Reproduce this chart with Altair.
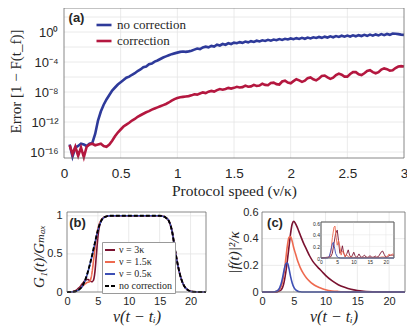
import altair as alt
import pandas as pd

# ---------------- data: panel (a) ----------------
A_X0, A_DX = 0.05, 0.025   # sampling grid of protocol speed
a_blue_log10 = [
    -15.0, -16.6, -15.4, -15.2, -14.9, -15.0, -15.2, -14.9, -14.8, -13.6,
    -11.8, -10.6, -9.7, -9.0, -8.4, -7.8, -7.4, -7.0, -6.7, -6.4,
    -6.1, -5.95, -5.7, -5.5, -5.2, -5.0, -4.7, -4.6, -4.3, -4.2,
    -3.95, -3.8, -3.6, -3.4, -3.25, -3.1, -2.95, -2.85, -2.75, -2.65,
    -2.6, -2.65, -2.58, -2.5, -2.35, -2.2, -2.28, -2.05, -1.95, -2.05,
    -1.85, -1.95, -1.7, -1.8, -1.6, -1.7, -1.5, -1.6, -1.42, -1.5,
    -1.35, -1.45, -1.28, -1.38, -1.22, -1.32, -1.16, -1.26, -1.1, -1.2,
    -1.04, -1.15, -1.0, -1.1, -0.94, -1.05, -0.9, -1.0, -0.86, -0.96,
    -0.82, -0.93, -0.78, -0.9, -0.74, -0.85, -0.7, -0.8, -0.66, -0.78,
    -0.62, -0.74, -0.58, -0.7, -0.54, -0.66, -0.5, -0.63, -0.48, -0.6,
    -0.44, -0.57, -0.42, -0.54, -0.38, -0.51, -0.34, -0.48, -0.32, -0.45,
    -0.28, -0.42, -0.26, -0.38, -0.2, -0.24, -0.28, -0.35, -0.38,
]
a_red_log10 = [
    -15.1, -16.3, -15.3, -16.5, -15.4, -16.7, -15.3, -15.0, -14.9, -15.1,
    -15.0, -14.9, -15.2, -15.3, -15.0, -14.5, -13.9, -13.4, -13.0, -12.6,
    -12.35, -12.1, -11.8, -11.6, -11.3, -11.1, -10.9, -10.7, -10.55, -10.35,
    -10.2, -10.05, -9.9, -9.75, -9.6, -9.4, -9.15, -8.95, -8.8, -8.7,
    -8.65, -8.6, -8.55, -8.45, -8.3, -8.35, -8.2, -8.05, -8.15, -7.95,
    -7.85, -7.95, -7.75, -7.6, -7.7, -7.6, -7.45, -7.55, -7.45, -7.3,
    -7.4, -7.35, -7.15, -7.3, -7.25, -7.05, -7.2, -7.15, -6.9, -7.05,
    -7.1, -6.8, -6.75, -6.95, -7.0, -6.6, -6.5, -6.75, -6.85, -6.55,
    -6.3, -6.45, -6.65, -6.5, -6.15, -6.05, -6.3, -6.45, -6.2, -5.85,
    -5.8, -6.05, -6.25, -6.1, -5.75, -5.55, -5.7, -5.95, -5.95, -5.6,
    -5.35, -5.35, -5.65, -5.75, -5.5, -5.2, -5.1, -5.35, -5.5, -5.35,
    -5.0, -4.85, -4.95, -5.15, -5.1, -4.8, -4.6, -4.55, -4.6,
]
a_series = ["no correction", "correction"]
a_colors = ["#2e3a9a", "#b4173f"]
a_xticks = [0, 0.5, 1, 1.5, 2, 2.5, 3]
a_xgrid = [0.5, 1, 1.5, 2, 2.5]
a_ytick_exp = [-16, -12, -8, -4, 0]
a_ygrid_exp = [-16, -14, -12, -10, -8, -6, -4, -2, 0, 2]
A_XDOM = [0, 3]
A_YDOM_EXP = [-16.8, 3.2]

# ---------------- data: panel (b) ----------------
b_x = [0, 0.5, 1, 1.5, 2, 2.5, 3, 3.25, 3.5, 3.75, 4, 4.25, 4.5, 4.75, 5, 5.25, 5.5, 6, 6.5, 7,
       8, 9, 10, 11, 12, 13, 14, 15, 15.5, 16, 16.5, 17, 17.5, 18, 18.5, 19, 19.5, 20, 20.5, 21, 22, 22.5]
b_tail = [1, 1, 1, 1, 1, 1, 1, 1, 0.995, 0.975, 0.93, 0.8, 0.55, 0.33, 0.17, 0.075, 0.03, 0.01,
          0.003, 0.001, 0, 0]
b_rise_3k = [0, 0.001, 0.008, 0.025, 0.06, 0.11, 0.155, 0.165, 0.16, 0.145, 0.135, 0.15, 0.25,
             0.48, 0.72, 0.86, 0.93, 0.98, 0.995, 1]
b_rise_15k = [0, 0, 0.004, 0.015, 0.04, 0.075, 0.11, 0.125, 0.13, 0.15, 0.23, 0.38, 0.56, 0.72,
              0.83, 0.9, 0.94, 0.98, 0.995, 1]
b_rise_05k = [0, 0, 0.003, 0.012, 0.034, 0.078, 0.165, 0.225, 0.295, 0.375, 0.455, 0.545, 0.635,
              0.725, 0.805, 0.875, 0.925, 0.978, 0.994, 1]
b_rise_nc = [0, 0, 0.003, 0.012, 0.035, 0.08, 0.17, 0.23, 0.3, 0.38, 0.46, 0.55, 0.64, 0.73,
             0.81, 0.88, 0.93, 0.98, 0.995, 1]
b_series = ["ν = 3κ", "ν = 1.5κ", "ν = 0.5κ", "no correction"]
b_colors = ["#7a1230", "#ee6a50", "#3d4fb5", "#000000"]
b_dashes = [[1, 0], [1, 0], [1, 0], [4, 2]]
b_xticks = [0, 5, 10, 15, 20]
b_yticks = [0, 0.5, 1]
B_XDOM = [0, 22.5]
B_YDOM = [0, 1.05]

# ---------------- data: panel (c) ----------------
c_x = [0, 1, 1.5, 2, 2.5, 3, 3.25, 3.5, 3.75, 4, 4.25, 4.5, 4.75, 5, 5.25, 5.5, 5.75, 6,
       6.5, 7, 7.5, 8, 8.5, 9, 9.5, 10, 11, 12, 13, 14, 15, 16, 18, 20, 22.5]
c_3k = [0, 0, 0, 0, 0.003, 0.015, 0.035, 0.08, 0.15, 0.24, 0.34, 0.44, 0.51, 0.53, 0.515, 0.49,
        0.46, 0.43, 0.37, 0.32, 0.27, 0.23, 0.2, 0.175, 0.15, 0.125, 0.085, 0.055, 0.035, 0.02,
        0.011, 0.006, 0.002, 0.001, 0]
c_15k = [0, 0, 0, 0.002, 0.01, 0.04, 0.08, 0.15, 0.25, 0.35, 0.41, 0.415, 0.38, 0.33, 0.29, 0.25,
         0.215, 0.185, 0.14, 0.105, 0.08, 0.06, 0.045, 0.033, 0.024, 0.017, 0.008, 0.004, 0.002,
         0.001, 0, 0, 0, 0, 0]
c_05k = [0, 0, 0, 0.002, 0.012, 0.06, 0.11, 0.17, 0.212, 0.218, 0.175, 0.115, 0.068, 0.037, 0.019,
         0.009, 0.004, 0.002, 0, 0, 0, 0, 0, 0, 0, 0, 0, 0, 0, 0, 0, 0, 0, 0, 0]
c_series = ["3k", "1.5k", "0.5k"]
c_colors = ["#7a1230", "#ee6a50", "#3d4fb5"]
c_yticks = [0, 0.2, 0.4, 0.6]
C_YDOM = [0, 0.6]

# inset of (c)
i_3k_x = [0, 3, 3.5, 4, 4.5, 5, 5.4, 5.8, 6.2, 6.6, 7.0, 7.5, 8.0, 8.4, 8.8, 9.3, 9.7, 10.1, 10.5,
          11.0, 11.4, 11.7, 12.1, 12.6, 13.0, 13.4, 13.8, 14.3, 14.7, 15.1, 15.5, 16.0, 16.4, 16.7,
          17.1, 17.6, 18.0, 18.5, 19.0, 19.5, 20.0, 20.5, 21.0, 21.5, 22.0, 22.5]
i_3k_y = [0, 0.02, 0.08, 0.25, 0.42, 0.48, 0.3, 0.08, 0.1, 0.21, 0.08, 0.02, 0.08, 0.14, 0.05,
          0.01, 0.05, 0.1, 0.04, 0.01, 0.04, 0.07, 0.03, 0.01, 0.03, 0.05, 0.02, 0.01, 0.02, 0.04,
          0.02, 0.01, 0.02, 0.035, 0.015, 0.02, 0.05, 0.1, 0.12, 0.06, 0.01, 0.02, 0.04, 0.05, 0.05,
          0.03]
i_15k_x = [0, 2.5, 3, 3.5, 4, 4.3, 4.7, 5.0, 5.4, 5.8, 6.2, 6.6, 7.0, 7.4, 7.8, 8.2, 8.6, 9.0,
           10, 12, 14, 16, 18, 19, 20, 20.5, 21, 21.5, 22, 22.5]
i_15k_y = [0, 0.01, 0.08, 0.35, 0.53, 0.55, 0.35, 0.22, 0.3, 0.2, 0.05, 0.12, 0.1, 0.02, 0.06,
           0.04, 0.01, 0.02, 0.01, 0.01, 0.01, 0.01, 0.01, 0.02, 0.01, 0.03, 0.07, 0.04, 0.07, 0.06]
i_05k_x = [0, 2, 2.5, 3, 3.5, 3.8, 4.1, 4.5, 5, 5.5, 6, 22.5]
i_05k_y = [0, 0, 0.02, 0.12, 0.24, 0.27, 0.2, 0.08, 0.02, 0.005, 0, 0]
I_YDOM = [0, 0.62]

# ---------------- layout (chart pixels) ----------------
W, H = 399, 318
SANS = "Liberation Sans, Arial, Helvetica, sans-serif"
SERIF = "'Liberation Serif', 'Times New Roman', 'DejaVu Serif', serif"
TXT = "#262626"
GRID, FRAME = "#e4e4e4", "#6a6a6a"


def axis(orient, offset, values, size, pad, title="", tx=0, ty=0, tsize=14,
         fmt="~g", label_expr=None, tstyle="normal"):
    kw = dict(orient=orient, offset=offset, values=values, grid=False, domain=False,
              ticks=False, tickSize=0, labelPadding=pad, labelFont=SANS, labelFontSize=size,
              labelColor=TXT, labelFlush=False, labelOverlap=False, format=fmt, title=title)
    if label_expr:
        kw["labelExpr"] = label_expr
    if title:
        kw.update(titleX=tx, titleY=ty, titleFont=SERIF, titleFontSize=tsize,
                  titleFontWeight="normal", titleColor=TXT, titleBaseline="middle",
                  titleAlign="center", titleFontStyle=tstyle,
                  titleAngle=270 if orient == "left" else 0)
    return alt.Axis(**kw)


def frame(xs, ys, xd, yd, axx, axy, fill=False):
    df = pd.DataFrame({"x0": [xd[0]], "x1": [xd[1]], "y0": [yd[0]], "y1": [yd[1]]})
    if fill:
        m = alt.Chart(df).mark_rect(fill="white", stroke=FRAME, strokeWidth=0.7)
    else:
        m = alt.Chart(df).mark_rect(fillOpacity=0, stroke=FRAME, strokeWidth=0.8)
    return m.encode(x=alt.X("x0:Q", scale=xs, axis=axx), x2="x1:Q",
                    y=alt.Y("y0:Q", scale=ys, axis=axy), y2="y1:Q")


def vgrid(xs, ys, vals, yd, axx, axy, w=0.8):
    df = pd.DataFrame({"g": vals, "y0": yd[0], "y1": yd[1]})
    return alt.Chart(df).mark_rule(color=GRID, strokeWidth=w).encode(
        x=alt.X("g:Q", scale=xs, axis=axx), y=alt.Y("y0:Q", scale=ys, axis=axy), y2="y1:Q")


def hgrid(xs, ys, vals, xd, axx, axy, w=0.8):
    df = pd.DataFrame({"g": vals, "x0": xd[0], "x1": xd[1]})
    return alt.Chart(df).mark_rule(color=GRID, strokeWidth=w).encode(
        y=alt.Y("g:Q", scale=ys, axis=axy), x=alt.X("x0:Q", scale=xs, axis=axx), x2="x1:Q")


def panel_label(txt, px, py):
    return alt.Chart(pd.DataFrame({"t": [txt]})).mark_text(
        font=SANS, fontWeight="bold", fontSize=13, color=TXT).encode(
        x=alt.value(px), y=alt.value(py), text="t:N")


# ---------------- panel (a) ----------------
xs_a = alt.Scale(domain=A_XDOM, range=[56, 396], nice=False, zero=False)
a_ydom = [10.0 ** A_YDOM_EXP[0], 10.0 ** A_YDOM_EXP[1]]
ys_a = alt.Scale(type="log", domain=a_ydom, range=[150, 0], nice=False)
cs_a = alt.Scale(domain=a_series, range=a_colors)
leg_a = alt.Legend(orient="none", legendX=87, legendY=8, title=None, symbolType="stroke",
                   symbolSize=225, symbolStrokeWidth=2.6, labelFont=SERIF, labelFontSize=13,
                   labelColor=TXT, labelOffset=4, rowPadding=-1, padding=0)
sup = {-16: "10⁻¹⁶", -12: "10⁻¹²", -8: "10⁻⁸", -4: "10⁻⁴", 0: "10⁰"}
a_label_expr = " : ".join(
    f"datum.value < {10.0 ** (e + 1):g} ? '{sup[e]}'" for e in a_ytick_exp[:-1]
) + f" : '{sup[0]}'"
ax_xa = axis("bottom", 150 - H, a_xticks, 13.5, 8, "Protocol speed (ν/κ)", 226, 32, 15.5)
ax_ya = axis("left", -56, [10.0 ** e for e in a_ytick_exp], 13, 6, "Error [1 − F(t_f)]",
             -49, 73, 15, label_expr=a_label_expr)

a_layers = [
    vgrid(xs_a, ys_a, a_xgrid, a_ydom, ax_xa, ax_ya),
    hgrid(xs_a, ys_a, [10.0 ** e for e in a_ygrid_exp], A_XDOM, ax_xa, ax_ya),
]
for name, vals in zip(a_series, [a_blue_log10, a_red_log10]):
    df = pd.DataFrame({
        "x": [round(A_X0 + A_DX * k, 4) for k in range(len(vals))],
        "err": [10.0 ** v for v in vals],
        "s": name,
    })
    a_layers.append(alt.Chart(df).mark_line(strokeWidth=2.6).encode(
        x=alt.X("x:Q", scale=xs_a, axis=ax_xa),
        y=alt.Y("err:Q", scale=ys_a, axis=ax_ya),
        color=alt.Color("s:N", scale=cs_a, legend=leg_a),
    ))
a_layers += [frame(xs_a, ys_a, A_XDOM, a_ydom, ax_xa, ax_ya), panel_label("(a)", 68.5, 10)]
pa = alt.layer(*a_layers)

# ---------------- panel (b) ----------------
xs_b = alt.Scale(domain=B_XDOM, range=[59, 198], nice=False, zero=False)
ys_b = alt.Scale(domain=B_YDOM, range=[284, 204], nice=False, zero=False)
cs_b = alt.Scale(domain=b_series, range=b_colors)
ds_b = alt.Scale(domain=b_series, range=b_dashes)
leg_b = alt.Legend(orient="none", legendX=94, legendY=234, title=None, symbolType="stroke",
                   symbolSize=100, symbolStrokeWidth=2, labelFont=SERIF, labelFontSize=10,
                   labelColor=TXT, labelOffset=3, rowPadding=1, padding=2,
                   fillColor="white", strokeColor="#9a9a9a")
ax_xb = axis("bottom", 284 - H, b_xticks, 11, 3, "ν(t − tᵢ)", 128.5, 24, 16, tstyle="italic")
ax_yb = axis("left", -59, b_yticks, 11, 5, "G₁(t)/Gₘₐₓ", -29, 248, 15, tstyle="italic")
b_layers = [vgrid(xs_b, ys_b, [5, 10, 15, 20], B_YDOM, ax_xb, ax_yb),
            hgrid(xs_b, ys_b, [0.5, 1], B_XDOM, ax_xb, ax_yb)]
b_rises = [b_rise_3k, b_rise_15k, b_rise_05k, b_rise_nc]
for i, (name, rise) in enumerate(zip(b_series, b_rises)):
    df = pd.DataFrame({"x": b_x, "g": rise + b_tail, "s": name})
    b_layers.append(alt.Chart(df).mark_line(strokeWidth=1.9 if i == 3 else 1.6,
                                            interpolate="monotone").encode(
        x=alt.X("x:Q", scale=xs_b, axis=ax_xb),
        y=alt.Y("g:Q", scale=ys_b, axis=ax_yb),
        color=alt.Color("s:N", scale=cs_b, legend=leg_b),
        strokeDash=alt.StrokeDash("s:N", scale=ds_b, legend=leg_b),
    ))
b_layers += [frame(xs_b, ys_b, B_XDOM, B_YDOM, ax_xb, ax_yb), panel_label("(b)", 69.5, 214.5)]
pb = alt.layer(*b_layers)

# ---------------- panel (c) ----------------
xs_c = alt.Scale(domain=B_XDOM, range=[254, 397], nice=False, zero=False)
ys_c = alt.Scale(domain=C_YDOM, range=[284, 204], nice=False, zero=False)
cs_c = alt.Scale(domain=c_series, range=c_colors)
ax_xc = axis("bottom", 284 - H, b_xticks, 11, 3, "ν(t − tᵢ)", 325.5, 24, 16, tstyle="italic")
ax_yc = axis("left", -254, c_yticks, 11, 4, "|f(t)|²/κ", -29, 244, 15, tstyle="italic")
c_layers = [vgrid(xs_c, ys_c, [5, 10, 15, 20], C_YDOM, ax_xc, ax_yc),
            hgrid(xs_c, ys_c, [0.2, 0.4], B_XDOM, ax_xc, ax_yc)]
for name, vals in zip(c_series, [c_3k, c_15k, c_05k]):
    df = pd.DataFrame({"x": c_x, "f": vals, "s": name})
    c_layers.append(alt.Chart(df).mark_line(strokeWidth=1.6, interpolate="monotone").encode(
        x=alt.X("x:Q", scale=xs_c, axis=ax_xc),
        y=alt.Y("f:Q", scale=ys_c, axis=ax_yc),
        color=alt.Color("s:N", scale=cs_c, legend=None),
    ))
c_layers += [frame(xs_c, ys_c, B_XDOM, C_YDOM, ax_xc, ax_yc), panel_label("(c)", 267, 214.5)]
pc = alt.layer(*c_layers)

# ---------------- inset ----------------
xs_i = alt.Scale(domain=B_XDOM, range=[313, 386], nice=False, zero=False)
ys_i = alt.Scale(domain=I_YDOM, range=[250, 214], nice=False, zero=False)
cs_i = alt.Scale(domain=c_series, range=c_colors)
ax_xi = axis("bottom", 250 - H, b_xticks, 5, 1)
ax_yi = axis("left", -313, c_yticks, 5, 1.5)
in_layers = [frame(xs_i, ys_i, B_XDOM, I_YDOM, ax_xi, ax_yi, fill=True),
             vgrid(xs_i, ys_i, [5, 10, 15, 20], I_YDOM, ax_xi, ax_yi, 0.5),
             hgrid(xs_i, ys_i, [0.2, 0.4], B_XDOM, ax_xi, ax_yi, 0.5)]
for name, xv, yv in zip(c_series, [i_3k_x, i_15k_x, i_05k_x], [i_3k_y, i_15k_y, i_05k_y]):
    df = pd.DataFrame({"x": xv, "f": yv, "s": name})
    in_layers.append(alt.Chart(df).mark_line(strokeWidth=0.9).encode(
        x=alt.X("x:Q", scale=xs_i, axis=ax_xi),
        y=alt.Y("f:Q", scale=ys_i, axis=ax_yi),
        color=alt.Color("s:N", scale=cs_i, legend=None),
    ))
in_layers.append(frame(xs_i, ys_i, B_XDOM, I_YDOM, ax_xi, ax_yi))
pin = alt.layer(*in_layers)

chart = (
    alt.layer(pa, pb, pc, pin)
    .resolve_scale(x="independent", y="independent", color="independent",
                   strokeDash="independent")
    .resolve_axis(x="independent", y="independent")
    .resolve_legend(color="independent", strokeDash="independent")
    .properties(width=W, height=H, padding=0, autosize=alt.AutoSizeParams(type="none"))
    .configure_view(stroke="transparent")
)
chart.save("out.html", embed_options={"renderer": "svg", "actions": False})
